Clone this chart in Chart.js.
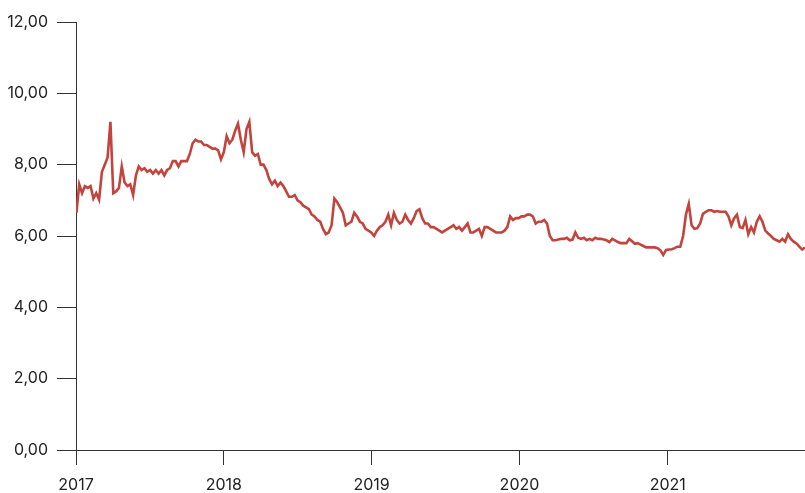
<!DOCTYPE html>
<html>
<head>
<meta charset="utf-8">
<script src="https://cdn.jsdelivr.net/npm/chart.js@4.4.0/dist/chart.umd.min.js"></script>
<style>
  html, body { margin: 0; padding: 0; background: #fff; }
  #wrap { width: 805px; height: 493px; position: relative; }
</style>
</head>
<body>
<div id="wrap"><canvas id="rateChart"></canvas></div>
<script>
// weekly readings, first week starts Monday 2 Jan 2017
const startDate = '2017-01-02';
const yearTicks = [2017, 2018, 2019, 2020, 2021];
const yTicks = [0, 2, 4, 6, 8, 10, 12];

const values2017 = [6.65, 7.45, 7.2, 7.4, 7.35, 7.4, 7.05, 7.2, 7.02, 7.8, 8.0, 8.2, 9.2, 7.2, 7.25, 7.35,
    7.95, 7.5, 7.4, 7.45, 7.15, 7.7, 7.95, 7.85, 7.9, 7.8, 7.85, 7.75, 7.85, 7.75, 7.85, 7.7, 7.85, 7.9,
    8.1, 8.1, 7.95, 8.1, 8.1, 8.1, 8.3, 8.6, 8.7, 8.65, 8.65, 8.55, 8.55, 8.5, 8.45, 8.45, 8.4, 8.15];
const values2018 = [8.35, 8.8, 8.6, 8.7, 8.95, 9.15, 8.7, 8.35, 9.0, 9.2, 8.35, 8.25, 8.3, 8.0, 8.0, 7.85,
    7.6, 7.45, 7.55, 7.4, 7.5, 7.4, 7.25, 7.1, 7.1, 7.15, 7.0, 6.95, 6.85, 6.8, 6.75, 6.6, 6.55, 6.45,
    6.4, 6.2, 6.05, 6.1, 6.3, 7.05, 6.95, 6.8, 6.65, 6.3, 6.35, 6.4, 6.65, 6.55, 6.4, 6.35, 6.2, 6.15];
const values2019 = [6.1, 6.0, 6.15, 6.25, 6.3, 6.4, 6.6, 6.3, 6.65, 6.45, 6.35, 6.4, 6.6, 6.45, 6.35, 6.5,
    6.7, 6.75, 6.5, 6.35, 6.35, 6.25, 6.25, 6.2, 6.15, 6.1, 6.15, 6.2, 6.25, 6.3, 6.2, 6.25, 6.15, 6.25,
    6.35, 6.1, 6.1, 6.15, 6.2, 6.0, 6.25, 6.25, 6.2, 6.15, 6.1, 6.1, 6.1, 6.15, 6.25, 6.55, 6.45, 6.5];
const values2020 = [6.5, 6.55, 6.55, 6.6, 6.6, 6.55, 6.35, 6.4, 6.4, 6.45, 6.35, 6.0, 5.88, 5.88, 5.9, 5.92,
    5.92, 5.95, 5.88, 5.9, 6.1, 5.95, 5.92, 5.95, 5.88, 5.92, 5.88, 5.95, 5.92, 5.92, 5.9, 5.88, 5.83, 5.92,
    5.88, 5.83, 5.8, 5.8, 5.8, 5.92, 5.85, 5.78, 5.8, 5.76, 5.72, 5.68, 5.68, 5.68, 5.68, 5.66, 5.6, 5.47];
const values2021 = [5.61, 5.62, 5.63, 5.66, 5.7, 5.7, 6.0, 6.6, 6.9, 6.3, 6.2, 6.22, 6.35, 6.62, 6.68, 6.72,
    6.72, 6.68, 6.7, 6.68, 6.68, 6.68, 6.55, 6.3, 6.5, 6.6, 6.25, 6.22, 6.45, 6.05, 6.25, 6.1, 6.4, 6.55,
    6.4, 6.15, 6.07, 6.0, 5.92, 5.88, 5.84, 5.92, 5.84, 6.05, 5.92, 5.84, 5.79, 5.7, 5.62, 5.68];

const DAY = 86400000;
const allValues = [].concat(values2017, values2018, values2019, values2020, values2021);
const t0 = Date.parse(startDate + 'T00:00:00Z');
const points = allValues.map(function(v, i) {
    return { x: t0 + i * 7 * DAY, y: v };
});

const axisColor = '#333333';
const textColor = '#222222';
const tickFont = { family: 'Inter', size: 16 };

const config = {
    type: 'line',
    data: {
        datasets: [{
            data: points,
            borderColor: '#c2443d',
            borderWidth: 2.6,
            pointRadius: 0,
            tension: 0,
            fill: false
        }]
    },
    options: {
        responsive: true,
        maintainAspectRatio: false,
        animation: false,
        layout: { padding: { top: 22, right: 0, left: 0, bottom: 0 } },
        plugins: {
            legend: { display: false },
            tooltip: { enabled: false }
        },
        scales: {
            x: {
                type: 'linear',
                min: Date.UTC(yearTicks[0], 0, 1),
                max: points[points.length - 1].x,
                afterBuildTicks: function(scale) {
                    scale.ticks = yearTicks.map(function(y) { return { value: Date.UTC(y, 0, 1) }; });
                },
                afterFit: function(scale) { scale.height = 43; },
                ticks: {
                    autoSkip: false,
                    maxRotation: 0,
                    padding: 11,
                    color: textColor,
                    font: tickFont,
                    callback: function(v) { return new Date(v).getUTCFullYear(); }
                },
                grid: { drawOnChartArea: false, drawTicks: true, tickLength: 15, color: axisColor },
                border: { display: true, color: axisColor }
            },
            y: {
                min: 0,
                max: 12,
                afterBuildTicks: function(scale) {
                    scale.ticks = yTicks.map(function(v) { return { value: v }; });
                },
                afterFit: function(scale) { scale.width = 76; },
                ticks: {
                    padding: 9,
                    color: textColor,
                    font: tickFont,
                    callback: function(v) { return v.toFixed(2).replace('.', ','); }
                },
                grid: { drawOnChartArea: false, drawTicks: true, tickLength: 19, color: axisColor },
                border: { display: true, color: axisColor }
            }
        }
    }
};

const rateChart = new Chart(document.getElementById('rateChart'), config);
</script>
</body>
</html>
